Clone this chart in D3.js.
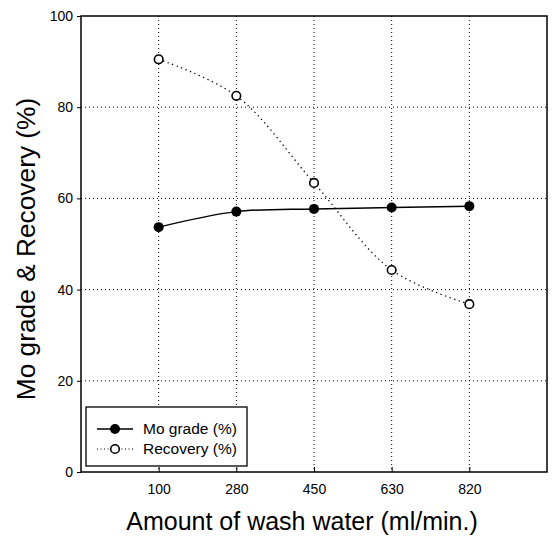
<!DOCTYPE html>
<html>
<head>
<meta charset="utf-8">
<script src="https://cdn.jsdelivr.net/npm/d3@7"></script>
<style>
  body { margin: 0; background: #fff; }
  svg { display: block; }
  text { font-family: "Liberation Sans", Arial, sans-serif; fill: #000; }
</style>
</head>
<body>
<svg id="chart" width="554" height="536"></svg>
<script>
// Wash water flow rates (ml/min.)
const categories = ["100", "280", "450", "630", "820"];
// Mo grade (%) and recovery (%) at each flow rate
const moGrade = [53.7, 57.1, 57.7, 58.0, 58.3];
const recovery = [90.5, 82.5, 63.4, 44.3, 36.8];
const yTicks = [0, 20, 40, 60, 80, 100];

const svg = d3.select("#chart");
const plotLeft = 81, plotRight = 547, plotTop = 16, plotBottom = 472;

// Categories sit at positions 1..5 of a 0..6 range
const x = d3.scaleLinear().domain([0, categories.length + 1]).range([plotLeft, plotRight]);
const y = d3.scaleLinear().domain([0, 100]).range([plotBottom, plotTop]);
const px = (d, i) => x(i + 1);

// Dotted grid
const grid = svg.append("g").attr("stroke", "#000").attr("stroke-width", 1)
  .attr("stroke-dasharray", "1,3");
grid.selectAll("line.v").data(categories).join("line").attr("class", "v")
  .attr("x1", px).attr("x2", px).attr("y1", plotTop).attr("y2", plotBottom);
grid.selectAll("line.h").data(yTicks.filter(t => t > 0 && t < 100)).join("line").attr("class", "h")
  .attr("x1", plotLeft).attr("x2", plotRight).attr("y1", d => y(d)).attr("y2", d => y(d));

// Frame
svg.append("rect").attr("x", plotLeft).attr("y", plotTop)
  .attr("width", plotRight - plotLeft).attr("height", plotBottom - plotTop)
  .attr("fill", "none").attr("stroke", "#000").attr("stroke-width", 1.5);

// Y axis
const yAxis = svg.append("g").attr("transform", `translate(${plotLeft},0)`)
  .call(d3.axisLeft(y).tickValues(yTicks).tickSize(4).tickPadding(4).tickFormat(d3.format("d")));
yAxis.select(".domain").remove();
yAxis.selectAll("text").attr("font-size", 14);

// X axis with inward ticks
const xAxis = svg.append("g").attr("transform", `translate(0,${plotBottom})`)
  .call(d3.axisBottom(x).tickValues(d3.range(1, categories.length + 1))
    .tickFormat(i => categories[i - 1]).tickSizeInner(-5).tickSizeOuter(0).tickPadding(12));
xAxis.select(".domain").remove();
xAxis.selectAll("text").attr("font-size", 14);

// Series lines
const line = d3.line().x(px).y(d => y(d)).curve(d3.curveCatmullRom.alpha(0.5));
svg.append("path").datum(moGrade).attr("d", line)
  .attr("fill", "none").attr("stroke", "#000").attr("stroke-width", 1.5);
svg.append("path").datum(recovery).attr("d", line)
  .attr("fill", "none").attr("stroke", "#000").attr("stroke-width", 1.3)
  .attr("stroke-dasharray", "1.3,3.5");

// Markers
svg.append("g").selectAll("circle").data(moGrade).join("circle")
  .attr("cx", px).attr("cy", d => y(d)).attr("r", 5).attr("fill", "#000");
svg.append("g").selectAll("circle").data(recovery).join("circle")
  .attr("cx", px).attr("cy", d => y(d)).attr("r", 4.3)
  .attr("fill", "#fff").attr("stroke", "#000").attr("stroke-width", 1.6);

// Legend
const lg = svg.append("g");
lg.append("rect").attr("x", 86).attr("y", 407).attr("width", 161).attr("height", 59)
  .attr("fill", "#fff").attr("stroke", "#000").attr("stroke-width", 1.3);
const items = [
  { label: "Mo grade (%)", filled: true, yy: 429 },
  { label: "Recovery (%)", filled: false, yy: 449 }
];
items.forEach(it => {
  lg.append("line").attr("x1", 97).attr("x2", 133).attr("y1", it.yy).attr("y2", it.yy)
    .attr("stroke", "#000").attr("stroke-width", it.filled ? 1.3 : 1)
    .attr("stroke-dasharray", it.filled ? null : "1,2.5");
  lg.append("circle").attr("cx", 115).attr("cy", it.yy).attr("r", it.filled ? 5 : 4.3)
    .attr("fill", it.filled ? "#000" : "#fff").attr("stroke", "#000")
    .attr("stroke-width", it.filled ? 0 : 1.6);
  lg.append("text").attr("x", 143).attr("y", it.yy).attr("dy", "0.35em")
    .attr("font-size", 15.5).text(it.label);
});

// Axis titles
svg.append("text").attr("x", 302).attr("y", 530)
  .attr("text-anchor", "middle").attr("font-size", 25)
  .text("Amount of wash water (ml/min.)");
svg.append("text").attr("transform", "translate(35,249) rotate(-90)")
  .attr("text-anchor", "middle").attr("font-size", 26.3)
  .text("Mo grade & Recovery (%)");
</script>
</body>
</html>
